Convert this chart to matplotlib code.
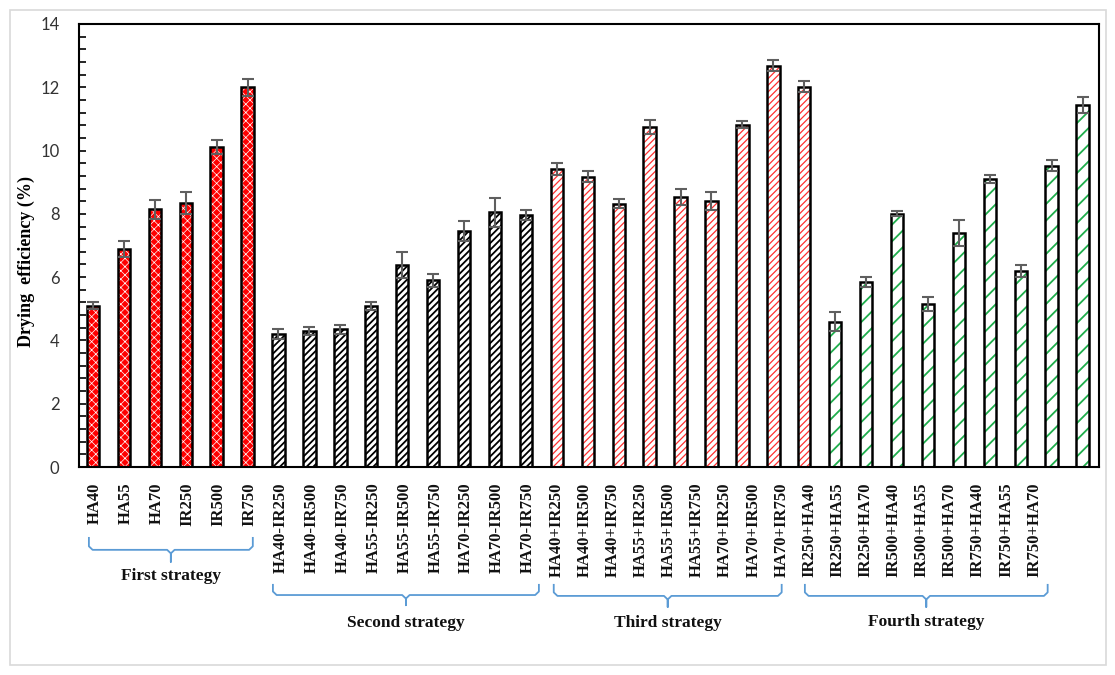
import matplotlib
matplotlib.use("Agg")
import matplotlib.pyplot as plt
import matplotlib.transforms as mtransforms
from matplotlib.patches import Rectangle
import numpy as np

# ---------------- data ----------------
labels_s1 = ["HA40", "HA55", "HA70", "IR250", "IR500", "IR750"]
values_s1 = [5.1, 6.9, 8.15, 8.35, 10.1, 12.0]
errors_s1 = [0.12, 0.25, 0.3, 0.35, 0.22, 0.27]

labels_s2 = ["HA40-IR250", "HA40-IR500", "HA40-IR750", "HA55-IR250", "HA55-IR500",
             "HA55-IR750", "HA70-IR250", "HA70-IR500", "HA70-IR750"]
values_s2 = [4.2, 4.3, 4.35, 5.1, 6.38, 5.9, 7.47, 8.05, 7.97]
errors_s2 = [0.17, 0.13, 0.15, 0.13, 0.42, 0.2, 0.32, 0.45, 0.15]

labels_s3 = ["HA40+IR250", "HA40+IR500", "HA40+IR750", "HA55+IR250", "HA55+IR500",
             "HA55+IR750", "HA70+IR250", "HA70+IR500", "HA70+IR750"]
values_s3 = [9.42, 9.18, 8.32, 10.75, 8.52, 8.4, 10.82, 12.68, 12.02]
errors_s3 = [0.18, 0.18, 0.15, 0.22, 0.25, 0.28, 0.1, 0.17, 0.17]

labels_s4 = ["IR250+HA40", "IR250+HA55", "IR250+HA70", "IR500+HA40", "IR500+HA55",
             "IR500+HA70", "IR750+HA40", "IR750+HA55", "IR750+HA70"]
values_s4 = [4.59, 5.85, 8.0, 5.15, 7.4, 9.1, 6.18, 9.52, 11.45]
errors_s4 = [0.3, 0.16, 0.08, 0.22, 0.42, 0.12, 0.19, 0.17, 0.25]

strategy_names = ["First strategy", "Second strategy", "Third strategy", "Fourth strategy"]

# ---------------- style ----------------
serif = ["Liberation Serif", "DejaVu Serif"]

groups = [
    (labels_s1, values_s1, errors_s1, dict(face="#FF0000", hatch="xxxx", hc="#FFFFFF", hlw=0.5)),
    (labels_s2, values_s2, errors_s2, dict(face="#FFFFFF", hatch="/////", hc="#000000", hlw=1.3)),
    (labels_s3, values_s3, errors_s3, dict(face="#FFFFFF", hatch="/////", hc="#FF3030", hlw=0.9)),
    (labels_s4, values_s4, errors_s4, dict(face="#FFFFFF", hatch="//", hc="#1FAE4C", hlw=1.3)),
]

fig = plt.figure(figsize=(11.15, 6.75), dpi=100)
fig.patches.append(Rectangle((10 / 1115, 10 / 675), 1096 / 1115, 655 / 675,
                             transform=fig.transFigure, fill=False,
                             edgecolor="#D9D9D9", linewidth=1.2, zorder=0))
ax = fig.add_axes([79 / 1115, 1 - 467 / 675, (1099 - 79) / 1115, (467 - 24) / 675])

all_labels = []
label_pos = []
idx = 0
for gi, (labs, vals, errs, st) in enumerate(groups):
    x = np.arange(idx, idx + len(labs))
    with plt.rc_context({"hatch.linewidth": st["hlw"]}):
        bars = ax.bar(x, vals, width=0.4, color=st["face"], hatch=st["hatch"],
                      edgecolor=st["hc"], linewidth=0, zorder=2)
        for b in bars:
            try:
                b.set_hatch_linewidth(st["hlw"])
            except AttributeError:
                pass
    ax.bar(x, vals, width=0.4, fill=False, edgecolor="#000000", linewidth=1.8, zorder=3)
    ax.errorbar(x, vals, yerr=errs, fmt="none", ecolor="#5F5F5F", elinewidth=1.5,
                capsize=4, capthick=1.5, zorder=4)
    all_labels += labs
    idx += len(labs)

# label positions (labels in the reference are slightly compressed for the last two groups)
for i in range(len(all_labels)):
    if i < 15:
        label_pos.append(i + 0.07)
    else:
        label_pos.append(15 + (i - 15) * 0.9075)

ax.set_xlim(-0.45, 32.53)
ax.set_ylim(0, 14)
ax.set_yticks(np.arange(0, 15, 2))
ax.set_yticks(np.arange(0, 14.01, 0.4), minor=True)
ax.tick_params(axis="y", which="both", direction="in", length=5, width=1.2,
               labelsize=12, labelcolor="#333333", pad=14)
for lab in ax.get_yticklabels():
    lab.set_family(["Lato", "DejaVu Sans"])
ax.set_xticks(label_pos)
ax.set_xticklabels(all_labels, rotation=90, family=serif, fontweight="bold",
                   fontsize=12, color="#111111")
ax.tick_params(axis="x", length=0, pad=11)
for s in ax.spines.values():
    s.set_linewidth(1.5)
    s.set_color("#000000")

ax.set_ylabel("Drying  efficiency (%)", family=serif, fontweight="bold", fontsize=13)
ax.yaxis.set_label_coords(-0.043, 0.465)

# ---------------- braces ----------------
trans = mtransforms.blended_transform_factory(ax.transData, ax.transAxes)
brace_x = [(-0.13, 5.17), (5.82, 14.42), (14.9, 22.27), (23.02, 30.87)]
brace_y = [(-0.160, -0.187, -0.214, -0.246), (-0.266, -0.289, -0.312, -0.352),
           (-0.266, -0.291, -0.316, -0.353), (-0.266, -0.291, -0.316, -0.351)]
for (x0, x1), (yt, yl, ytip, ytext), name in zip(brace_x, brace_y, strategy_names):
    xc = (x0 + x1) / 2
    r = 0.12
    dy = 0.008
    xs = [x0, x0, x0 + r, xc - r, xc, xc, xc, xc + r, x1 - r, x1, x1]
    ys = [yt, yl + dy, yl, yl, yl - dy, ytip, yl - dy, yl, yl, yl + dy, yt]
    ax.plot(xs, ys, transform=trans, color="#5B9BD5", linewidth=1.3, clip_on=False,
            solid_joinstyle="round")
    ax.text(xc, ytext, name, transform=trans, ha="center", va="center", family=serif,
            fontweight="bold", fontsize=12.5, color="#111111")

fig.savefig("out.png", dpi=100)
